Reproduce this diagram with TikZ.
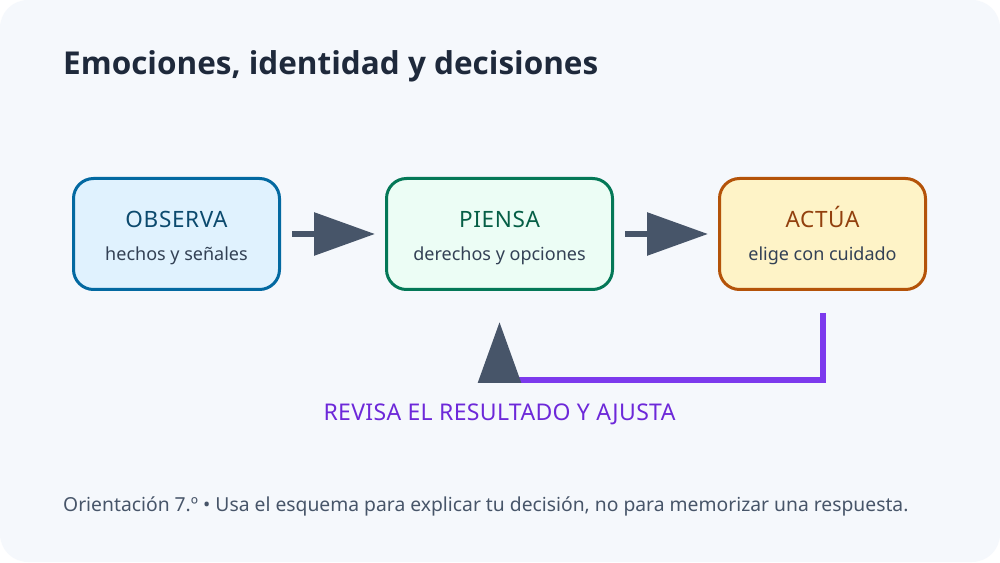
\documentclass[tikz,border=0pt]{standalone}
\usepackage{fontspec}
\setmainfont{Noto Sans}
\newfontfamily\headfont{Open Sans}
\usepackage{xcolor}
\usetikzlibrary{positioning}
\usetikzlibrary{arrows.meta}
\definecolor{pagebg}{HTML}{F5F8FC}
\definecolor{ink}{HTML}{1E293B}
\definecolor{slate}{HTML}{475569}
\definecolor{subink}{HTML}{334155}
\definecolor{obsfill}{HTML}{E0F2FE}
\definecolor{obsline}{HTML}{0369A1}
\definecolor{obstext}{HTML}{0C4A6E}
\definecolor{piefill}{HTML}{ECFDF5}
\definecolor{pieline}{HTML}{047857}
\definecolor{pietext}{HTML}{065F46}
\definecolor{actfill}{HTML}{FEF3C7}
\definecolor{actline}{HTML}{B45309}
\definecolor{acttext}{HTML}{92400E}
\definecolor{loopline}{HTML}{7C3AED}
\definecolor{looptext}{HTML}{6D28D9}
\newcommand{\boxsub}{\fontsize{18}{33}\selectfont\addfontfeature{LetterSpace=0}\color{subink}}
\tikzset{edge/.style = {-{Triangle[length=61pt,width=42pt]}, line width=6pt, draw=slate, fill=slate}}

\begin{document}
\begin{tikzpicture}[x=1pt,y=1pt,
    step box/.style={rectangle,rounded corners=20pt,line width=3pt,minimum height=111pt,
        align=center,text height=54pt,text depth=0pt,
        font=\fontsize{22.5}{33}\selectfont\addfontfeature{LetterSpace=3}},
    loop edge/.style={-{Triangle[length=61pt,width=42pt,color=slate]},line width=6pt,draw=loopline}]
  \fill[white] (0,0) rectangle (1000,562);
  \fill[pagebg,rounded corners=28pt] (0,0) rectangle (1000,562);

  \node[anchor=base west,text=ink,font=\headfont\fontsize{31.5}{38}\selectfont\bfseries,inner sep=0pt] (title) at (63,487)
    {Emociones, identidad y decisiones};

  \node[step box,minimum width=206pt,draw=obsline,fill=obsfill,text=obstext] (observa) at (176.5,328)
    {OBSERVA\\{\boxsub hechos y señales}};
  \node[step box,minimum width=226pt,draw=pieline,fill=piefill,text=pietext] (piensa) [right=104pt of observa]
    {PIENSA\\{\boxsub derechos y opciones}};
  \node[step box,minimum width=206pt,draw=actline,fill=actfill,text=acttext] (actua) [right=104pt of piensa]
    {ACTÚA\\{\boxsub elige con cuidado}};

  \path[edge,shorten <=11pt,shorten >=10pt] (observa) edge (piensa);
  \path[edge,shorten <=11pt,shorten >=10pt] (piensa) edge (actua);

  % vuelta desde actua hasta piensa
  \coordinate (vuelta) at ([yshift=-89pt]piensa.south);
  \draw[loop edge,shorten <=22pt,shorten >=31pt] (actua.south) |- (vuelta) -- (piensa.south);
  \node[anchor=base,text=looptext,font=\fontsize{23}{27}\selectfont\addfontfeature{LetterSpace=1.5},inner sep=0pt] (revisa) at (499.5,141)
    {REVISA EL RESULTADO Y AJUSTA};

  \node[anchor=base west,text=slate,font=\fontsize{19.3}{23}\selectfont,inner sep=0pt] (nota) at (63,51)
    {Orientación 7.º • Usa el esquema para explicar tu decisión, no para memorizar una respuesta.};
\end{tikzpicture}
\end{document}
